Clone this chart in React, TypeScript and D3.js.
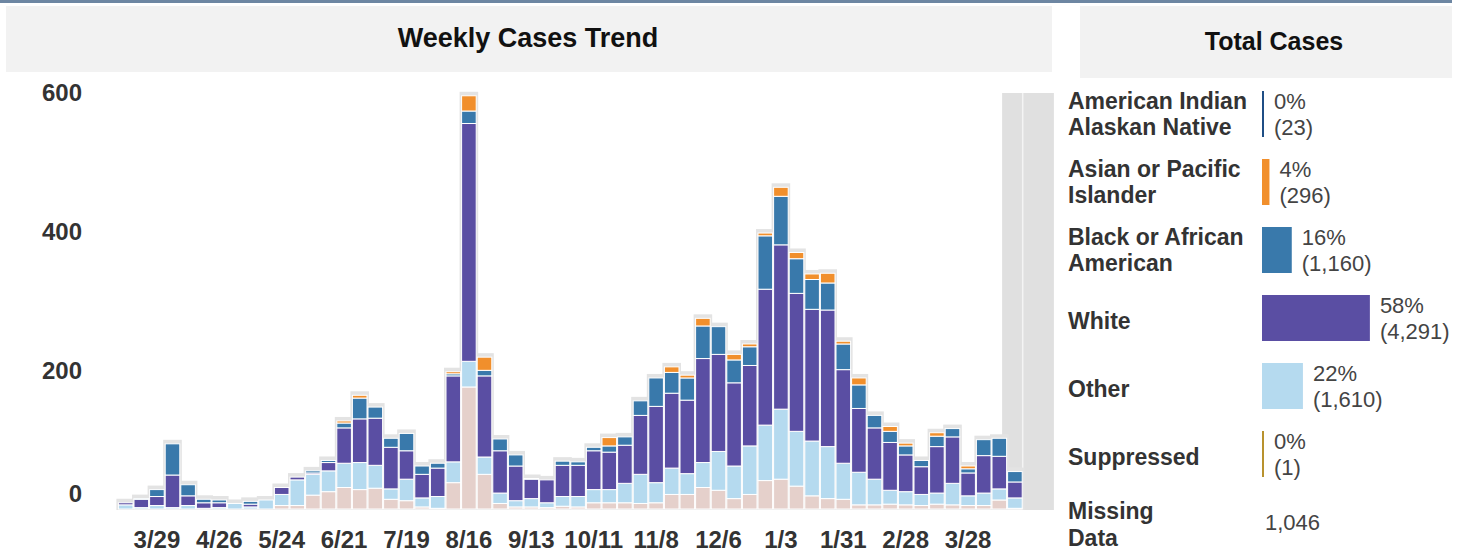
import React from 'react';
import * as d3 from 'd3';

// ---- Data ----
const weeks = [
  '3/15','3/22','3/29','4/5','4/12','4/19','4/26','5/3','5/10','5/17',
  '5/24','5/31','6/7','6/14','6/21','6/28','7/5','7/12','7/19','7/26',
  '8/2','8/9','8/16','8/23','8/30','9/6','9/13','9/20','9/27','10/4',
  '10/11','10/18','10/25','11/1','11/8','11/15','11/22','11/29','12/6','12/13',
  '12/20','12/27','1/3','1/10','1/17','1/24','1/31','2/7','2/14','2/21',
  '2/28','3/7','3/14','3/21','3/28','4/4','4/11','4/18','4/25','5/2'
];
const shadedWeeks = ['4/18','4/25','5/2'];
const tickLabels = ['3/29','4/26','5/24','6/21','7/19','8/16','9/13','10/11','11/8','12/6','1/3','1/31','2/28','3/28'];
const yTicks = [0, 200, 400, 600];

const missing = [
  0,0,0,0,0,0,0,0,0,0,
  5,5,20,25,31,28,30,14,12,3,
  1,38,176,50,8,3,3,2,4,3,
  9,9,9,8,9,21,21,31,27,15,
  21,41,43,33,19,15,14,6,6,7,
  6,5,7,6,5,5,13,1
];
const other = [
  6,2,5,2,5,1,2,8,3,13,
  16,37,30,30,35,39,33,15,31,13,
  17,30,37,25,15,9,12,7,14,15,
  19,19,28,42,29,38,30,36,56,47,
  70,80,101,79,79,75,52,47,37,20,
  19,16,16,31,14,18,16,15
];
const white = [
  3,12,13,47,14,8,7,0,4,0,
  10,4,2,12,51,63,68,60,41,34,
  41,124,343,117,61,50,28,33,45,45,
  56,54,55,85,110,108,106,150,140,120,
  116,196,237,199,190,197,135,92,74,69,
  53,40,67,67,33,54,47,23
];
const black = [
  0,1,10,45,16,5,4,0,4,0,
  0,0,3,3,7,30,16,13,25,12,
  7,3,18,8,17,16,1,0,6,5,
  5,9,12,21,41,30,32,47,40,33,
  27,77,70,50,43,39,37,34,18,16,
  13,9,15,12,6,23,26,15
];
const asian = [
  0,0,0,0,0,0,0,0,0,0,
  0,0,0,0,3,4,0,0,0,0,
  0,3,22,19,0,0,0,0,0,0,
  0,12,0,0,0,8,4,11,0,8,
  4,4,13,9,8,14,4,10,0,7,
  4,0,5,0,4,0,0,0
];

const seriesKeys = ['missing', 'other', 'white', 'black', 'asian'];
const seriesColors = ['#e5d0cb', '#b5daef', '#5a4ea3', '#3979ab', '#f18f2c'];

const legendLabels = [
  ['American Indian', 'Alaskan Native'],
  ['Asian or Pacific', 'Islander'],
  ['Black or African', 'American'],
  ['White'],
  ['Other'],
  ['Suppressed'],
];
const legendPct = [0, 4, 16, 58, 22, 0];
const legendCounts = ['(23)', '(296)', '(1,160)', '(4,291)', '(1,610)', '(1)'];
const legendColors = ['#1f4e85', '#f18f2c', '#3979ab', '#5a4ea3', '#b5daef', '#b8922e'];
const missingLabel = ['Missing', 'Data'];
const missingValue = '1,046';

const FONT = '"Liberation Sans", Arial, Helvetica, sans-serif';

export default function App() {
  const W = 1462, H = 555;
  const step = 15.6;
  const x0 = 117.9;
  const x = d3.scaleBand<string>().domain(weeks).range([x0, x0 + weeks.length * step]).padding(0);
  const y = d3.scaleLinear().domain([0, 600]).range([509, 93]);
  const bw = x.bandwidth();

  const rows = missing.map((_, i) => ({
    week: weeks[i],
    missing: missing[i], other: other[i], white: white[i], black: black[i], asian: asian[i],
  }));
  const stacked = d3.stack<any>().keys(seriesKeys)(rows);
  const totals = rows.map(r => r.missing + r.other + r.white + r.black + r.asian);

  const shadeX0 = (x(shadedWeeks[0]) as number) - 5;
  const shadeX1 = (x(shadedWeeks[shadedWeeks.length - 1]) as number) + bw;
  const shadeSplit = x(shadedWeeks[1]) as number;

  // legend
  const lx = 1262;
  const pw = d3.scaleLinear().domain([0, 100]).range([0, 186]);
  const rowY = (k: number) => 114 + 68 * k;

  return (
    <svg width={W} height={H} style={{ position: 'absolute', left: 0, top: 0, background: '#fff' }} fontFamily={FONT}>
      {/* top rule */}
      <rect x={0} y={0} width={1452} height={3} fill="#6d86a2" />
      {/* header bands */}
      <rect x={6} y={6} width={1046} height={66} fill="#f2f2f2" />
      <text x={528} y={47} textAnchor="middle" fontSize={27} fontWeight="bold" fill="#111">Weekly Cases Trend</text>
      <rect x={1080} y={6} width={372} height={72} fill="#f2f2f2" />
      <text x={1274} y={50} textAnchor="middle" fontSize={25} fontWeight="bold" fill="#111">Total Cases</text>

      {/* shaded incomplete weeks */}
      <rect x={shadeX0} y={y(600)} width={shadeX1 - shadeX0} height={y(0) - y(600) + 1} fill="#e0e0e0" />
      <line x1={shadeSplit} x2={shadeSplit} y1={y(600)} y2={y(0) + 1} stroke="#f4f4f4" strokeWidth={1.5} />

      {/* halos */}
      {rows.map((r, i) => {
        const bx = x(r.week) as number;
        return (
          <rect key={'h' + i} x={bx - 1.5} y={y(totals[i]) - 4} width={bw + 3} height={y(0) - y(totals[i]) + 5} fill="#e3e3e3" />
        );
      })}

      {/* stacked bars */}
      {stacked.map((s, k) => (
        <g key={s.key} fill={seriesColors[k]}>
          {s.map((d: any, i: number) => {
            const h = y(d[0]) - y(d[1]);
            if (h <= 0) return null;
            return (
              <rect key={i} x={(x(weeks[i]) as number) + 0.5} y={y(d[1])} width={bw - 1} height={h}
                stroke="#ffffff" strokeWidth={1} />
            );
          })}
        </g>
      ))}

      {/* y axis labels */}
      {yTicks.map(t => (
        <text key={t} x={82} y={t === 0 ? y(t) - 15 : y(t)} dy="0.35em" textAnchor="end" fontSize={24} fontWeight="bold" fill="#333">{t}</text>
      ))}

      {/* x axis labels */}
      {tickLabels.map(t => (
        <text key={t} x={(x(t) as number) + bw / 2} y={540} dy="0.35em" textAnchor="middle" fontSize={24} fontWeight="bold" fill="#333">{t}</text>
      ))}

      {/* legend */}
      {legendLabels.map((lines, k) => {
        const cy = rowY(k);
        const w = Math.max(2, pw(legendPct[k]));
        return (
          <g key={k}>
            {lines.map((ln, j) => (
              <text key={j} x={1068} y={lines.length === 1 ? cy + 3 : cy - 13 + 26 * j} dy="0.35em" fontSize={23} fontWeight="bold" fill="#333">{ln}</text>
            ))}
            <rect x={lx} y={cy - 23} width={w} height={46} fill={legendColors[k]} />
            <text x={lx + w + 10} y={cy - 13} dy="0.35em" fontSize={22} fill="#444">{legendPct[k] + '%'}</text>
            <text x={lx + w + 10} y={cy + 13} dy="0.35em" fontSize={22} fill="#444">{legendCounts[k]}</text>
          </g>
        );
      })}
      {missingLabel.map((ln, j) => (
        <text key={ln} x={1068} y={511 + 27 * j} dy="0.35em" fontSize={23} fontWeight="bold" fill="#333">{ln}</text>
      ))}
      <text x={1265} y={522} dy="0.35em" fontSize={22} fill="#444">{missingValue}</text>
    </svg>
  );
}
